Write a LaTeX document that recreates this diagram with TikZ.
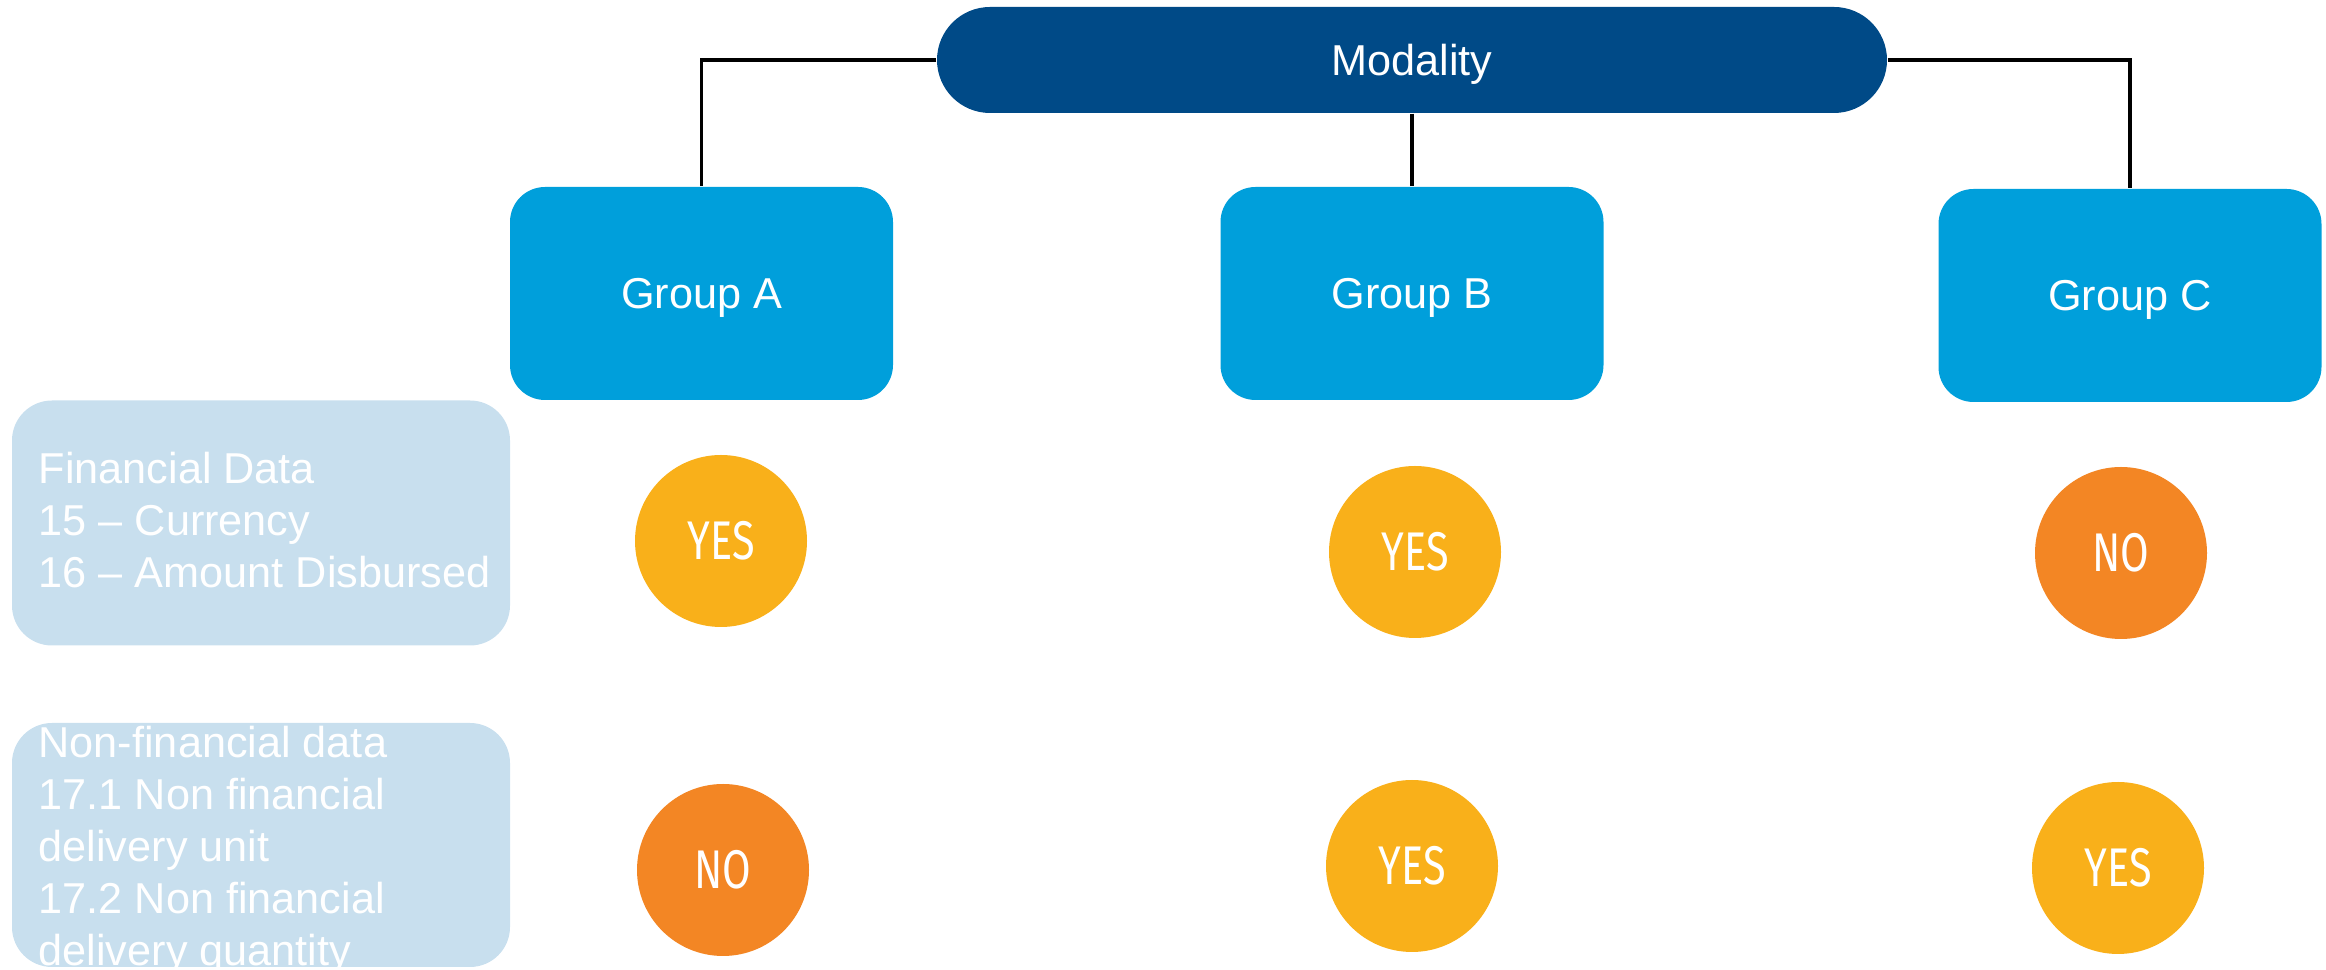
\documentclass[tikz,border=0pt]{standalone}
\usepackage{fontspec}
\setmainfont{Liberation Sans}
\newfontfamily\ansfont[FakeStretch=0.76]{Fira Sans}
\definecolor{modblue}{RGB}{0,74,135}
\definecolor{grpblue}{RGB}{0,159,219}
\definecolor{datblue}{RGB}{200,223,238}
\definecolor{yesyel}{RGB}{249,176,26}
\definecolor{noorg}{RGB}{243,134,36}
\begin{document}
\begin{tikzpicture}[
		every node/.style={font=\fontsize{12.3}{14.8}\selectfont, text=white},
		grp/.style={fill=grpblue, rounded corners=0.35cm, minimum width=3.83cm, minimum height=2.13cm, text depth=0pt},
		dat/.style={fill=datblue, rounded corners=0.4cm, minimum width=4.98cm, minimum height=2.45cm},
		dattxt/.style={anchor=west, align=left, inner sep=0pt},
		ans/.style={circle, minimum size=1.72cm, inner sep=0pt, font=\ansfont\fontsize{15.5}{18}\selectfont},
		yes/.style={ans, fill=yesyel},
		no/.style={ans, fill=noorg},
		link/.style={draw=black, line width=0.9pt}
	]
	\useasboundingbox (0,0) rectangle (23.26,9.70);
	% top of the tree
	\node[fill=modblue, rounded corners=0.53cm, minimum width=9.50cm, minimum height=1.06cm, text depth=0pt] (m) at (14.12,9.10) {Modality};
	\node[grp] (ga) at (7.015,6.765) {Group A};
	\node[grp] (gb) at (14.12,6.765) {Group B};
	\node[grp] (gc) at (21.30,6.745) {Group C};
	\draw[link] (m.west) -| (ga.north);
	\draw[link] (m.south) -- (gb.north);
	\draw[link] (m.east) -| (gc.north);
	% data rows
	\node[dat] (fin) at (2.61,4.47) {};
	\node[dattxt] (fintxt) at (0.38,4.50) {Financial Data\\15 – Currency\\16 – Amount Disbursed};
	\node[dat, minimum height=2.44cm] (nfin) at (2.61,1.25) {};
	\node[dattxt] (nfintxt) at (0.38,1.20) {Non-financial data\\17.1 Non financial\\delivery unit\\17.2 Non financial\\delivery quantity};
	% answers
	\node[yes] (a1) at (7.21,4.29) {YES};
	\node[yes] (b1) at (14.15,4.18) {YES};
	\node[no] (c1) at (21.21,4.17) {NO};
	\node[no] (a2) at (7.23,1.00) {NO};
	\node[yes] (b2) at (14.12,1.04) {YES};
	\node[yes] (c2) at (21.18,1.02) {YES};
\end{tikzpicture}
\end{document}
